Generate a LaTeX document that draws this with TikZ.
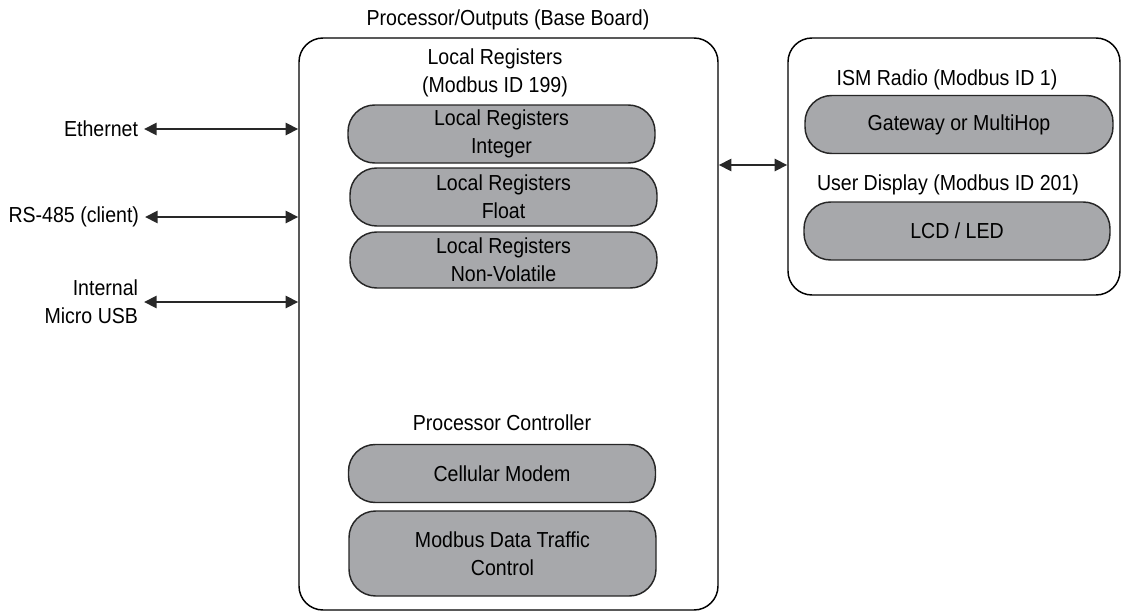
\documentclass[tikz,border=0pt]{standalone}
\usepackage{fontspec}
\setmainfont[FakeStretch=0.9]{Liberation Sans}
\usetikzlibrary{arrows.meta}
\definecolor{pillgray}{RGB}{167,168,171}
\definecolor{arrowgray}{RGB}{40,40,40}
\begin{document}
\begin{tikzpicture}[x=0.75pt,y=-0.75pt,
  font=\fontsize{16.3}{21}\selectfont,
  outerbox/.style={draw=black, line width=1.1pt, rounded corners=18pt, inner sep=0pt},
  pill/.style={draw=black!85, fill=pillgray, line width=1.1pt, rounded corners=20pt,
    minimum width=230.25pt, minimum height=43.5pt, align=center, inner sep=0pt},
  lbl/.style={align=center, inner sep=0pt},
  sidelbl/.style={align=right, inner sep=0pt, outer xsep=4.5pt, anchor=east},
  conn/.style={arrowgray, line width=2.2pt,
    {Triangle[length=9.5pt,width=9pt]}-{Triangle[length=9.5pt,width=9pt]}}]
\useasboundingbox (0,0) rectangle (1122,614);

% outer boxes
\node[outerbox, minimum width=314.25pt, minimum height=429pt] (base) at (508.5,324) {};
\node[outerbox, minimum width=249pt, minimum height=192.75pt] (radio) at (954,166.5) {};

% titles
\node[lbl] (basetitle) at (508,20) {Processor/Outputs (Base Board)};
\node[lbl] (lrtitle) at (495,73) {Local Registers\\(Modbus ID 199)};
\node[lbl] (pctitle) at (502,423) {Processor Controller};
\node[lbl] (ismtitle) at (947,80) {ISM Radio (Modbus ID 1)};
\node[lbl] (udtitle) at (948,185) {User Display (Modbus ID 201)};

% pills
\node[pill] (lrint) at (501.5,134) {Local Registers\\Integer};
\node[pill] (lrfloat) at (503.5,197) {Local Registers\\Float};
\node[pill, minimum height=42pt] (lrnv) at (503.5,260) {Local Registers\\Non-Volatile};
\node[pill] (cell) at (502,473.5) {Cellular Modem};
\node[pill, minimum height=63.75pt] (mdtc) at (502.5,553.5) {Modbus Data Traffic\\Control};
\node[pill, minimum width=231pt] (gw) at (959,124.5) {Gateway or MultiHop};
\node[pill, minimum width=229.5pt] (lcd) at (957,231) {LCD / LED};

% side labels
\node[sidelbl] (eth) at (144,129) {Ethernet};
\node[sidelbl] (rs) at (145,217) {RS-485 (client)};
\node[sidelbl] (usb) at (144,302) {Internal\\Micro USB};

% connectors
\draw[conn] (eth.east) -- (eth.east -| base.west);
\draw[conn] (rs.east) -- (rs.east -| base.west);
\draw[conn] (usb.east) -- (usb.east -| base.west);
\coordinate (mid) at (752,165);
\draw[conn] (mid -| base.east) -- (mid -| radio.west);
\end{tikzpicture}
\end{document}
